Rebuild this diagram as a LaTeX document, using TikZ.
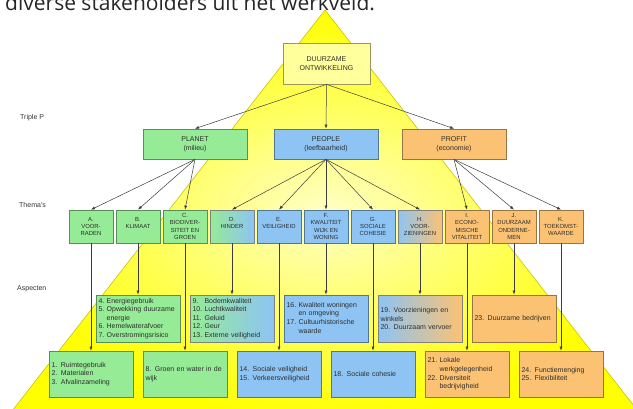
\documentclass[tikz,border=0pt]{standalone}
\usepackage{fontspec}
\setmainfont{Liberation Sans}
\newfontfamily\headfont{Open Sans}
\usetikzlibrary{arrows.meta,shapes}

\definecolor{pgreen}{HTML}{96EB96}
\definecolor{pblue}{HTML}{8DC4F4}
\definecolor{porange}{HTML}{FBC274}
\definecolor{pyellow}{HTML}{FFFF9C}
\definecolor{pyrline}{HTML}{C9C400}
\definecolor{connline}{HTML}{3C3C3C}
\definecolor{boxtext}{HTML}{2E2E2E}

\newcommand{\asplist}[1]{\begin{tabular}{@{}l@{\ }l@{}}#1\end{tabular}}

\begin{document}
\begin{tikzpicture}[x=1pt, y=-1pt, >={Latex[length=4pt,width=3pt]},
    box/.style={draw=#1!60!black, fill=#1, rectangle, text=boxtext, line width=0.7pt},
    mixbox/.style 2 args={draw=black!50, left color=#1, right color=#2, rectangle, text=boxtext, line width=0.7pt},
    pbox/.style={minimum width=104pt, minimum height=30pt, align=center, font=\fontsize{7}{9}\selectfont},
    tbox/.style={minimum width=44pt, minimum height=33pt, inner sep=1pt, align=center, font=\fontsize{5.9}{7.4}\selectfont},
    abox/.style={text width=79pt, inner xsep=2.5pt, inner ysep=1pt, minimum height=46pt, align=left, font=\fontsize{7}{8.6}\selectfont},
    conn/.style={->, draw=connline, line width=0.5pt},
    lbl/.style={anchor=west, inner sep=0pt, font=\fontsize{7}{8}\selectfont, text=black!80}]
    \useasboundingbox (0,0) rectangle (633,408);
    \clip (0,0) rectangle (633,408);

    % pyramid behind everything
    \shadedraw[inner color=yellow!22!white, outer color=yellow, draw=pyrline, line width=0.6pt] (325,10) -- (5,420) -- (645,420) -- cycle;
    \node[anchor=base west, inner sep=0pt, font=\headfont\fontsize{21}{21}\selectfont, text=black!85] (title) at (5,10) {diverse stakeholders uit het werkveld.};

    % levels on the left
    \node[lbl] (lblTriple) at (20,118) {Triple P};
    \node[lbl] (lblThema) at (19,205) {Thema\textquotesingle s};
    \node[lbl] (lblAspect) at (17,289) {Aspecten};

    \node[box=pyellow, minimum width=87pt, minimum height=41pt, align=center, font=\fontsize{7}{9}\selectfont] (core) at (326.5,63.5) {DUURZAME\\ONTWIKKELING};

    \node[box=pgreen, pbox] (planet) at (195,144) {PLANET\\(milieu)};
    \node[box=pblue, pbox] (people) at (326,144) {PEOPLE\\(leefbaarheid)};
    \node[box=porange, pbox] (profit) at (454,144) {PROFIT\\(economie)};

    % thema's
    \node[box=pgreen, tbox] (thA) at (91,226.5) {A.\\VOOR-\\RADEN};
    \node[box=pgreen, tbox] (thB) at (138,226.5) {B.\\KLIMAAT\\~};
    \node[box=pgreen, tbox] (thC) at (185,226.5) {C.\\BIODIVER-\\SITEIT EN\\GROEN};
    \node[mixbox={pgreen}{pblue}, tbox] (thD) at (232,226.5) {D.\\HINDER\\~};
    \node[box=pblue, tbox] (thE) at (279,226.5) {E.\\VEILIGHEID\\~};
    \node[box=pblue, tbox] (thF) at (326,226.5) {F.\\KWALITEIT\\WIJK EN\\WONING};
    \node[box=pblue, tbox] (thG) at (373,226.5) {G.\\SOCIALE\\COHESIE};
    \node[mixbox={pblue}{porange}, tbox] (thH) at (420,226.5) {H.\\VOOR-\\ZIENINGEN};
    \node[box=porange, tbox] (thI) at (467,226.5) {I.\\ECONO-\\MISCHE\\VITALITEIT};
    \node[box=porange, tbox] (thJ) at (514,226.5) {J.\\DUURZAAM\\ONDERNE-\\MEN};
    \node[box=porange, tbox] (thK) at (561,226.5) {K.\\TOEKOMST-\\WAARDE};

    % aspecten, upper row
    \node[box=pgreen, abox, minimum height=47pt] (asp4) at (138,318.5) {\asplist{4. & Energiegebruik\\5. & Opwekking duurzame\\ & energie\\6. & Hemelwaterafvoer\\7. & Overstromingsrisico}};
    \node[mixbox={pgreen}{pblue}, abox, minimum height=47pt] (asp9) at (232,318.5) {\asplist{9. & Bodemkwaliteit\\10. & Luchtkwaliteit\\11. & Geluid\\12. & Geur\\13. & Externe veiligheid}};
    \node[box=pblue, abox, minimum height=47pt] (asp16) at (326,318.5) {\asplist{16. & Kwaliteit woningen\\ & en omgeving\\17. & Cultuurhistorische\\ & waarde}};
    \node[mixbox={pblue}{porange}, abox, minimum height=47pt] (asp19) at (420,318.5) {19. Voorzieningen en\\winkels\\20. Duurzaam vervoer};
    \node[box=porange, abox, minimum height=47pt] (asp23) at (514,318.5) {23. Duurzame bedrijven};

    % aspecten, lower row
    \node[box=pgreen, abox] (asp1) at (91,374) {1. Ruimtegebruik\\2. Materialen\\3. Afvalinzameling};
    \node[box=pgreen, abox] (asp8) at (185,374) {8. Groen en water in de\\wijk};
    \node[box=pblue, abox] (asp14) at (279,374) {14. Sociale veiligheid\\15. Verkeersveiligheid};
    \node[box=pblue, abox] (asp18) at (373,374) {18. Sociale cohesie};
    \node[box=porange, abox] (asp21) at (467,374) {\asplist{21. & Lokale\\ & werkgelegenheid\\22. & Diversiteit\\ & bedrijvigheid}};
    \node[box=porange, abox] (asp24) at (561,374) {24. Functiemenging\\25. Flexibiliteit};

    \draw[conn] (core.south) -- (planet.north);
    \draw[conn] (core.south) -- (people.north);
    \draw[conn] (core.south) -- (profit.north);

    \draw[conn] (planet.south) -- (thA.north);
    \draw[conn] (planet.south) -- (thB.north);
    \draw[conn] (planet.south) -- (thC.north);
    \draw[conn] (people.south) -- (thD.north);
    \draw[conn] (people.south) -- (thE.north);
    \draw[conn] (people.south) -- (thF.north);
    \draw[conn] (people.south) -- (thG.north);
    \draw[conn] (people.south) -- (thH.north);
    \draw[conn] (profit.south) -- (thI.north);
    \draw[conn] (profit.south) -- (thJ.north);
    \draw[conn] (profit.south) -- (thK.north);

    \draw[conn] (thA.south) -- (asp1.north);
    \draw[conn] (thB.south) -- (asp4.north);
    \draw[conn] (thC.south) -- (asp8.north);
    \draw[conn] (thD.south) -- (asp9.north);
    \draw[conn] (thE.south) -- (asp14.north);
    \draw[conn] (thF.south) -- (asp16.north);
    \draw[conn] (thG.south) -- (asp18.north);
    \draw[conn] (thH.south) -- (asp19.north);
    \draw[conn] (thI.south) -- (asp21.north);
    \draw[conn] (thJ.south) -- (asp23.north);
    \draw[conn] (thK.south) -- (asp24.north);
\end{tikzpicture}
\end{document}
